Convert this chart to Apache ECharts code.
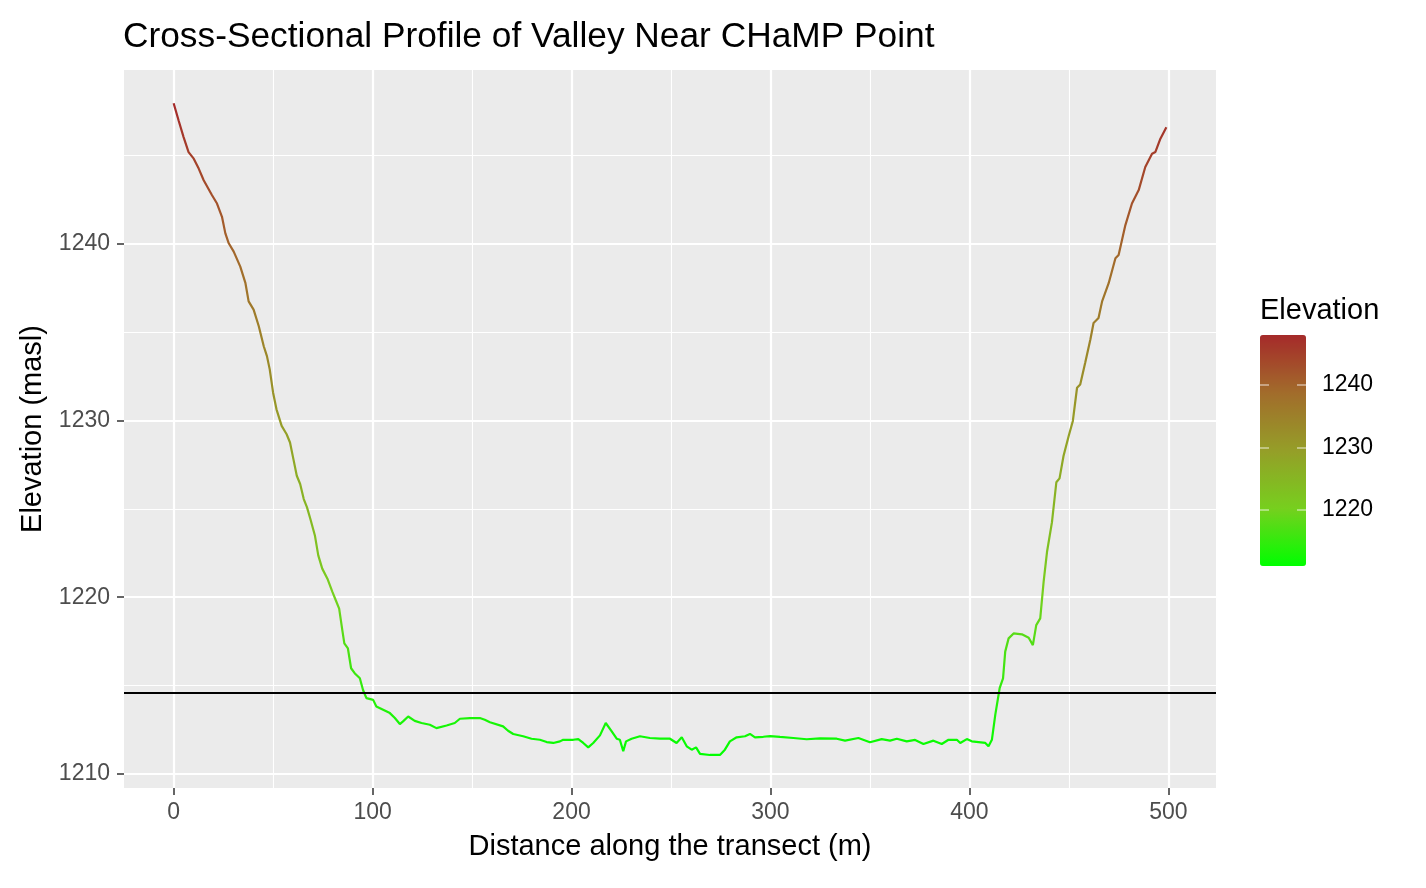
<!DOCTYPE html>
<html>
<head>
<meta charset="utf-8">
<script src="https://cdn.jsdelivr.net/npm/echarts@6/dist/echarts.min.js"></script>
<style>
html,body{margin:0;padding:0;background:#fff;}
#chart{width:1426px;height:888px;}
</style>
</head>
<body>
<div id="chart"></div>
<script>
const distance = [0,2.5,5.0,7.5,10.1,12.6,15.1,19.3,21.8,24.3,26.0,27.7,30.2,33.5,36.1,37.7,40.2,42.8,45.3,46.9,48.3,50.0,51.7,54.3,56.8,58.5,60.2,61.9,63.6,65.4,67.0,68.7,71.0,72.7,74.7,77.3,79.8,81.5,83.2,84.9,85.8,87.6,89.2,91.0,93.6,95.2,96.9,100.3,101.9,105.3,108.7,111.2,113.7,115.3,117.9,121.2,124.6,128.8,132.1,137.2,141.3,143.9,148.9,153.9,156.4,159.0,165.6,168.1,170.7,175.7,179.9,184.1,187.5,190.8,194.2,195.8,200.9,203.4,205.9,208.4,210.9,214.3,217.2,220.2,222.7,224.3,226.0,227.4,230.2,234.4,239.4,244.5,249.5,252.8,255.4,257.9,260.4,262.6,264.6,269.6,274.6,277.1,279.6,283.0,287.2,289.7,292.2,296.4,299.8,304.8,311.5,318.2,324.9,333.3,337.5,344.2,350.0,355.9,360.1,363.5,368.5,372.7,376.9,381.9,386.1,389.5,393.7,395.4,398.7,401.2,408.0,409.6,411.3,413.0,415.2,416.9,418.0,419.7,422.2,426.4,429.8,431.9,433.6,435.6,437.3,439.0,441.5,443.7,445.3,447.3,449.9,452.0,454.1,455.7,458.2,460.8,462.4,464.9,466.7,470.0,473.4,475.0,476.7,478.4,481.7,483.4,485.1,488.4,491.8,493.5,496.0,499.0];
const elevation = [1247.97,1246.99,1246.05,1245.2,1244.83,1244.27,1243.61,1242.76,1242.29,1241.54,1240.6,1240.04,1239.57,1238.72,1237.78,1236.75,1236.28,1235.34,1234.21,1233.65,1232.9,1231.58,1230.64,1229.7,1229.23,1228.76,1227.82,1226.88,1226.41,1225.56,1225.1,1224.44,1223.5,1222.37,1221.62,1221.05,1220.3,1219.83,1219.36,1218.05,1217.39,1217.1,1215.98,1215.7,1215.41,1214.75,1214.29,1214.19,1213.82,1213.63,1213.44,1213.16,1212.82,1212.97,1213.25,1213.0,1212.88,1212.78,1212.59,1212.74,1212.88,1213.12,1213.16,1213.16,1213.06,1212.92,1212.69,1212.44,1212.26,1212.13,1211.99,1211.93,1211.8,1211.75,1211.84,1211.93,1211.93,1211.97,1211.75,1211.5,1211.75,1212.18,1212.88,1212.41,1211.99,1211.93,1211.28,1211.84,1211.99,1212.13,1212.03,1211.99,1211.99,1211.75,1212.07,1211.56,1211.37,1211.5,1211.13,1211.07,1211.07,1211.37,1211.84,1212.07,1212.13,1212.26,1212.07,1212.1,1212.14,1212.09,1212.03,1211.96,1212.01,1211.99,1211.88,1212.03,1211.79,1211.97,1211.88,1211.99,1211.84,1211.92,1211.69,1211.88,1211.69,1211.93,1211.93,1211.75,1211.97,1211.84,1211.75,1211.56,1211.93,1213.34,1214.85,1215.41,1216.92,1217.67,1217.95,1217.9,1217.71,1217.29,1218.42,1218.8,1220.87,1222.56,1224.25,1226.51,1226.73,1228.0,1229.13,1229.98,1231.86,1232.05,1233.27,1234.59,1235.53,1235.81,1236.75,1237.78,1239.19,1239.38,1240.23,1241.07,1242.29,1242.67,1243.05,1244.36,1245.11,1245.21,1245.96,1246.61];

const xMajorTicks = [0, 100, 200, 300, 400, 500];
const xMinorTicks = [50, 150, 250, 350, 450];
const yMajorTicks = [1210, 1220, 1230, 1240];
const yMinorTicks = [1215, 1225, 1235, 1245];
const legendTicks = [1220, 1230, 1240];
const thresholdElevation = 1214.6;
const colorScaleMin = 1211.05;
const colorScaleMax = 1248.0;
const xRange = [-24.95, 523.95];
const yRange = [1209.2, 1249.85];

const FONT = "'Liberation Sans', Arial, Helvetica, sans-serif";
const profile = distance.map((d, i) => [d, elevation[i]]);
const plain = v => String(v);

const chart = echarts.init(document.getElementById('chart'), null, {renderer: 'canvas'});

const option = {
  backgroundColor: '#ffffff',
  animation: false,
  textStyle: {fontFamily: FONT},
  title: [
    {
      text: 'Cross-Sectional Profile of Valley Near CHaMP Point',
      left: 123, top: 20, padding: 0,
      textStyle: {fontSize: 35.3, fontWeight: 'normal', color: '#000', fontFamily: FONT}
    },
    {
      text: 'Elevation',
      left: 1260, top: 296, padding: 0,
      textStyle: {fontSize: 29, fontWeight: 'normal', color: '#000', fontFamily: FONT}
    }
  ],
  grid: [
    {left: 124, top: 70, width: 1092, height: 718, show: true, backgroundColor: '#EBEBEB', borderWidth: 0, containLabel: false},
    {left: 1260, top: 335, width: 46, height: 231, show: false, containLabel: false}
  ],
  visualMap: {
    type: 'continuous',
    seriesIndex: 0,
    dimension: 1,
    min: colorScaleMin,
    max: colorScaleMax,
    left: 1260,
    top: 335,
    itemWidth: 46,
    itemHeight: 231,
    padding: 0,
    calculable: false,
    realtime: false,
    hoverLink: false,
    text: null,
    showLabel: false,
    inRange: {color: ['#00FF00', '#77CF1E', '#959E28', '#A26C2B', '#A52A2A']}
  },
  xAxis: [
    {
      type: 'value', gridIndex: 0, min: xRange[0], max: xRange[1], position: 'bottom',
      name: 'Distance along the transect (m)', nameLocation: 'middle', nameGap: 44,
      nameTextStyle: {fontSize: 29, color: '#000', fontFamily: FONT},
      axisLine: {show: false, onZero: false},
      axisTick: {show: true, customValues: xMajorTicks, length: 7, lineStyle: {color: '#333333', width: 1.5}},
      axisLabel: {customValues: xMajorTicks, formatter: plain, fontSize: 23, color: '#4D4D4D', margin: 13, fontFamily: FONT},
      splitLine: {show: true, lineStyle: {color: '#FFFFFF', width: 2.2}}
    },
    {
      type: 'value', gridIndex: 0, min: xRange[0], max: xRange[1], position: 'top',
      axisLine: {show: false, onZero: false},
      axisTick: {show: false, customValues: xMinorTicks},
      axisLabel: {show: false, customValues: xMinorTicks},
      splitLine: {show: true, lineStyle: {color: '#FFFFFF', width: 1.1}}
    },
    {
      type: 'value', gridIndex: 1, show: false, axisLine: {onZero: false}
    }
  ],
  yAxis: [
    {
      type: 'value', gridIndex: 0, min: yRange[0], max: yRange[1], position: 'left',
      name: 'Elevation (masl)', nameLocation: 'middle', nameGap: 66,
      nameTextStyle: {fontSize: 29, color: '#000', fontFamily: FONT},
      axisLine: {show: false, onZero: false},
      axisTick: {show: true, customValues: yMajorTicks, length: 7, lineStyle: {color: '#333333', width: 1.5}},
      axisLabel: {customValues: yMajorTicks, formatter: plain, fontSize: 23, color: '#4D4D4D', margin: 14, fontFamily: FONT},
      splitLine: {show: true, lineStyle: {color: '#FFFFFF', width: 2.2}}
    },
    {
      type: 'value', gridIndex: 0, min: yRange[0], max: yRange[1], position: 'right',
      axisLine: {show: false, onZero: false},
      axisTick: {show: false, customValues: yMinorTicks},
      axisLabel: {show: false, customValues: yMinorTicks},
      splitLine: {show: true, lineStyle: {color: '#FFFFFF', width: 1.1}}
    },
    {
      type: 'value', gridIndex: 1, min: colorScaleMin, max: colorScaleMax, position: 'right', z: 10,
      axisLine: {show: false, onZero: false},
      axisTick: {show: true, inside: true, customValues: legendTicks, length: 9, lineStyle: {color: 'rgba(255,255,255,0.55)', width: 1.5}},
      axisLabel: {customValues: legendTicks, formatter: plain, fontSize: 23, color: '#000', margin: 16, padding: [8, 0, 0, 0], fontFamily: FONT},
      splitLine: {show: false}
    },
    {
      type: 'value', gridIndex: 1, min: colorScaleMin, max: colorScaleMax, position: 'left', z: 10,
      axisLine: {show: false, onZero: false},
      axisTick: {show: true, inside: true, customValues: legendTicks, length: 9, lineStyle: {color: 'rgba(255,255,255,0.55)', width: 1.5}},
      axisLabel: {show: false},
      splitLine: {show: false}
    }
  ],
  series: [
    {
      type: 'line',
      xAxisIndex: 0, yAxisIndex: 0,
      data: profile,
      showSymbol: false,
      symbol: 'none',
      lineStyle: {width: 2.2},
      silent: true,
      z: 3,
      markLine: {
        silent: true,
        symbol: ['none', 'none'],
        label: {show: false},
        lineStyle: {color: '#000000', width: 2, type: 'solid'},
        emphasis: {disabled: true},
        data: [{yAxis: thresholdElevation}]
      }
    }
  ]
};
chart.setOption(option);
</script>
</body>
</html>
